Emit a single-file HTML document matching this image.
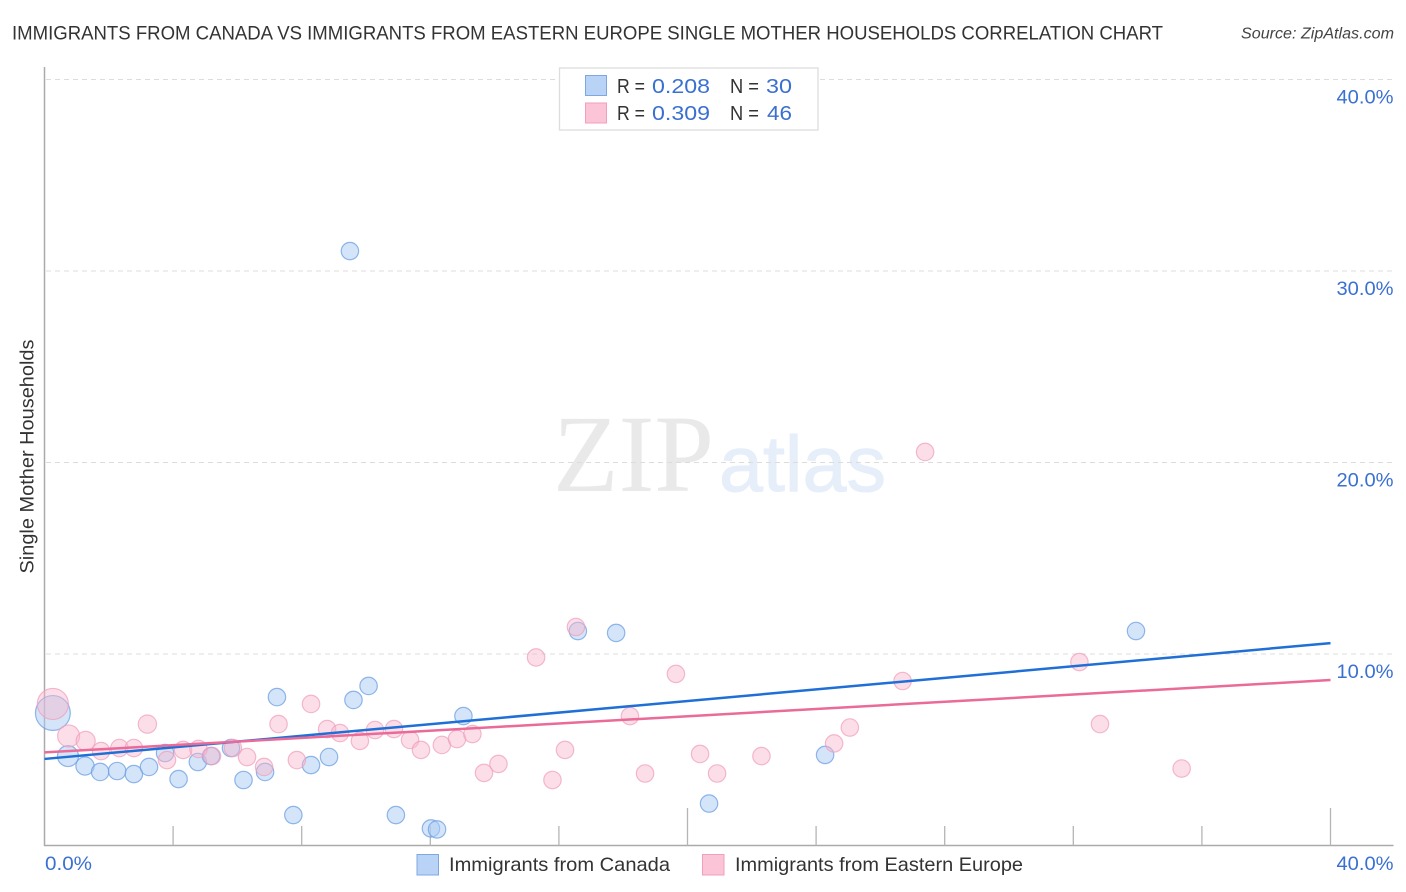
<!DOCTYPE html>
<html lang="en">
<head>
<meta charset="utf-8">
<title>Immigrants from Canada vs Immigrants from Eastern Europe Single Mother Households Correlation Chart</title>
<style>
html,body{margin:0;padding:0;background:#fff;}
svg{display:block;font-family:"Liberation Sans",sans-serif;}
</style>
</head>
<body>
<svg id="chart" xmlns="http://www.w3.org/2000/svg" width="1406" height="892" viewBox="0 0 1406 892">
  <rect x="0" y="0" width="1406" height="892" fill="#ffffff"/>
  <text x="12" y="39.5" font-size="19.5" fill="#333" textLength="1151" lengthAdjust="spacingAndGlyphs">IMMIGRANTS FROM CANADA VS IMMIGRANTS FROM EASTERN EUROPE SINGLE MOTHER HOUSEHOLDS CORRELATION CHART</text>
  <text x="1241" y="38.5" font-size="15.5" font-style="italic" fill="#444" textLength="153" lengthAdjust="spacingAndGlyphs">Source: ZipAtlas.com</text>
  <g>
    <text x="553" y="491" font-family="'Liberation Serif',serif" font-size="110" fill="#e9e9e9" textLength="161" lengthAdjust="spacingAndGlyphs">ZIP</text>
    <text x="719" y="491" font-size="79" fill="#e6eefa" stroke="#e6eefa" stroke-width="1" textLength="167" lengthAdjust="spacingAndGlyphs">atlas</text>
  </g>
  <g id="grid"></g>
  <g id="axes"></g>
  <g id="points-canada"></g>
  <g id="points-europe"></g>
  <g id="trends"></g>
  <text transform="translate(33.5,456.5) rotate(-90)" text-anchor="middle" font-size="19" fill="#333" textLength="234" lengthAdjust="spacingAndGlyphs">Single Mother Households</text>
  <g>
    <rect x="559.5" y="68" width="258.5" height="62" fill="#fff" stroke="#dddddd" stroke-width="1.3"/>
    <rect x="585.5" y="75.5" width="21" height="20" fill="#b9d3f7" stroke="#7fa8e3" stroke-width="1"/>
    <rect x="585.5" y="103" width="21" height="20" fill="#fcc5d7" stroke="#f0a0bb" stroke-width="1"/>
    <g font-size="20" fill="#333">
      <text x="617" y="93" textLength="28" lengthAdjust="spacingAndGlyphs">R =</text>
      <text x="730" y="93" textLength="29" lengthAdjust="spacingAndGlyphs">N =</text>
      <text x="617" y="120" textLength="28" lengthAdjust="spacingAndGlyphs">R =</text>
      <text x="730" y="120" textLength="29" lengthAdjust="spacingAndGlyphs">N =</text>
    </g>
    <g font-size="20" fill="#3a70d0">
      <text x="652" y="93" textLength="58" lengthAdjust="spacingAndGlyphs">0.208</text>
      <text x="766" y="93" textLength="26" lengthAdjust="spacingAndGlyphs">30</text>
      <text x="652" y="120" textLength="58" lengthAdjust="spacingAndGlyphs">0.309</text>
      <text x="767" y="120" textLength="25" lengthAdjust="spacingAndGlyphs">46</text>
    </g>
  </g>
  <g>
    <rect x="417" y="854.5" width="21.5" height="20.5" fill="#b9d3f7" stroke="#7fa8e3" stroke-width="1"/>
    <text x="449" y="871" font-size="19.5" fill="#333" textLength="221" lengthAdjust="spacingAndGlyphs">Immigrants from Canada</text>
    <rect x="702.5" y="854.5" width="21.5" height="20.5" fill="#fcc5d7" stroke="#f0a0bb" stroke-width="1"/>
    <text x="735" y="871" font-size="19.5" fill="#333" textLength="288" lengthAdjust="spacingAndGlyphs">Immigrants from Eastern Europe</text>
  </g>
</svg>
<script>
const yTickValues = [10, 20, 30, 40];
const yTickLabels = ["10.0%", "20.0%", "30.0%", "40.0%"];
const xTickValues = [4, 8, 12, 16, 20, 24, 28, 32, 36, 40];
const xMajorTicks = [20, 40];
const xEndLabels = ["0.0%", "40.0%"];

const canadaX = [0.26,0.73,1.26,1.73,2.26,2.78,3.25,3.75,4.17,4.77,5.18,5.80,6.19,6.86,7.23,7.74,8.29,8.85,9.50,9.61,10.08,10.93,12.02,12.21,13.03,16.59,17.78,20.67,24.28,33.95];
const canadaY = [6.92,4.67,4.15,3.84,3.89,3.73,4.10,4.83,3.47,4.36,4.67,5.09,3.42,3.84,7.75,1.59,4.20,4.62,31.04,7.60,8.33,1.59,0.89,0.84,6.76,11.20,11.10,2.19,4.73,11.20];
const canadaWeight = [4,1.45,1.1,1,1,1,1,1,1,1,1,1,1,1,1,1,1,1,1,1,1,1,1,1,1,1,1,1,1,1];

const europeX = [0.26,0.75,1.28,1.76,2.33,2.78,3.20,3.81,4.31,4.79,5.21,5.86,6.30,6.83,7.28,7.85,8.29,8.79,9.19,9.81,10.28,10.87,11.37,11.71,12.36,12.83,13.31,13.67,14.12,15.80,15.29,16.19,16.53,18.21,18.68,19.64,20.39,20.92,22.30,24.56,25.05,26.69,27.39,32.19,32.83,35.37];
const europeY = [7.39,5.72,5.46,4.93,5.09,5.09,6.34,4.46,4.99,5.04,4.67,5.09,4.62,4.10,6.34,4.46,7.39,6.08,5.87,5.46,6.03,6.08,5.51,4.99,5.25,5.56,5.82,3.79,4.26,3.42,9.82,4.99,11.41,6.76,3.76,8.96,4.78,3.76,4.67,5.33,6.16,8.59,20.55,9.58,6.34,4.02];
const europeWeight = [3.2,1.6,1.2,1,1,1,1.1,1,1,1,1,1,1,1,1,1,1,1,1,1,1,1,1,1,1,1,1,1,1,1,1,1,1,1,1,1,1,1,1,1,1,1,1,1,1,1];

const canadaTrend = [4.52, 10.57];
const europeTrend = [4.86, 8.64];
const trendDomain = [0, 40];

const NS = "http://www.w3.org/2000/svg";
function xScale(v) { return 44.5 + v * 32.15; }
function yScale(v) { return 845.5 - v * 19.15; }
function radius(w) { return 8.7 * Math.sqrt(w); }
function make(tag, attrs, parent) {
  const el = document.createElementNS(NS, tag);
  for (const k in attrs) el.setAttribute(k, attrs[k]);
  parent.appendChild(el);
  return el;
}

const grid = document.getElementById("grid");
const axes = document.getElementById("axes");

yTickValues.forEach(function (v, i) {
  const line = make("line", {x1: 46, x2: 1393, y1: yScale(v), y2: yScale(v), stroke: "#dcdcdc", "stroke-width": 1, "stroke-dasharray": "5 4"}, grid);
  
  
  const label = make("text", {x: 1393.5, y: yScale(v) + 24, "text-anchor": "end", "font-size": 19.5, fill: "#3a70d0", textLength: 57, lengthAdjust: "spacingAndGlyphs"}, axes);
  
  
  label.textContent = yTickLabels[i];
});

const yAxis = make("line", {x1: 44.5, x2: 44.5, y1: 67, y2: 846, stroke: "#aaaaaa", "stroke-width": 1.5}, axes);


const xAxis = make("line", {x1: 44, x2: 1393.5, y1: 845.5, y2: 845.5, stroke: "#aaaaaa", "stroke-width": 1.5}, axes);



xTickValues.forEach(function (v) {
  const top = xMajorTicks.indexOf(v) >= 0 ? 808 : 826;
  const tick = make("line", {x1: xScale(v), x2: xScale(v), y1: top, y2: 845.5, stroke: "#b5b5b5", "stroke-width": 1.3}, axes);
  
  
});

const xStart = make("text", {x: 45, y: 870, "font-size": 19.5, fill: "#3a70d0", textLength: 47, lengthAdjust: "spacingAndGlyphs"}, axes);


xStart.textContent = xEndLabels[0];
const xEnd = make("text", {x: 1393.5, y: 870, "text-anchor": "end", "font-size": 19.5, fill: "#3a70d0", textLength: 57, lengthAdjust: "spacingAndGlyphs"}, axes);


xEnd.textContent = xEndLabels[1];

const canadaGroup = document.getElementById("points-canada");
canadaX.forEach(function (v, i) {
  const c = make("circle", {cx: xScale(v), cy: yScale(canadaY[i]), r: radius(canadaWeight[i]), fill: "#a9cbf5", "fill-opacity": 0.5, stroke: "#6c9fe2", "stroke-opacity": 0.75, "stroke-width": 1.2}, canadaGroup);
  
  
});

const europeGroup = document.getElementById("points-europe");
europeX.forEach(function (v, i) {
  const c = make("circle", {cx: xScale(v), cy: yScale(europeY[i]), r: radius(europeWeight[i]), fill: "#f8b6cc", "fill-opacity": 0.45, stroke: "#f09dba", "stroke-opacity": 0.7, "stroke-width": 1.2}, europeGroup);
  
  
});

const trends = document.getElementById("trends");
const canadaLine = make("line", {x1: xScale(trendDomain[0]), x2: xScale(trendDomain[1]), y1: yScale(canadaTrend[0]), y2: yScale(canadaTrend[1]), stroke: "#1f6fd6", "stroke-width": 2.5}, trends);


const europeLine = make("line", {x1: xScale(trendDomain[0]), x2: xScale(trendDomain[1]), y1: yScale(europeTrend[0]), y2: yScale(europeTrend[1]), stroke: "#ea6a98", "stroke-width": 2.5}, trends);


</script>
</body>
</html>
